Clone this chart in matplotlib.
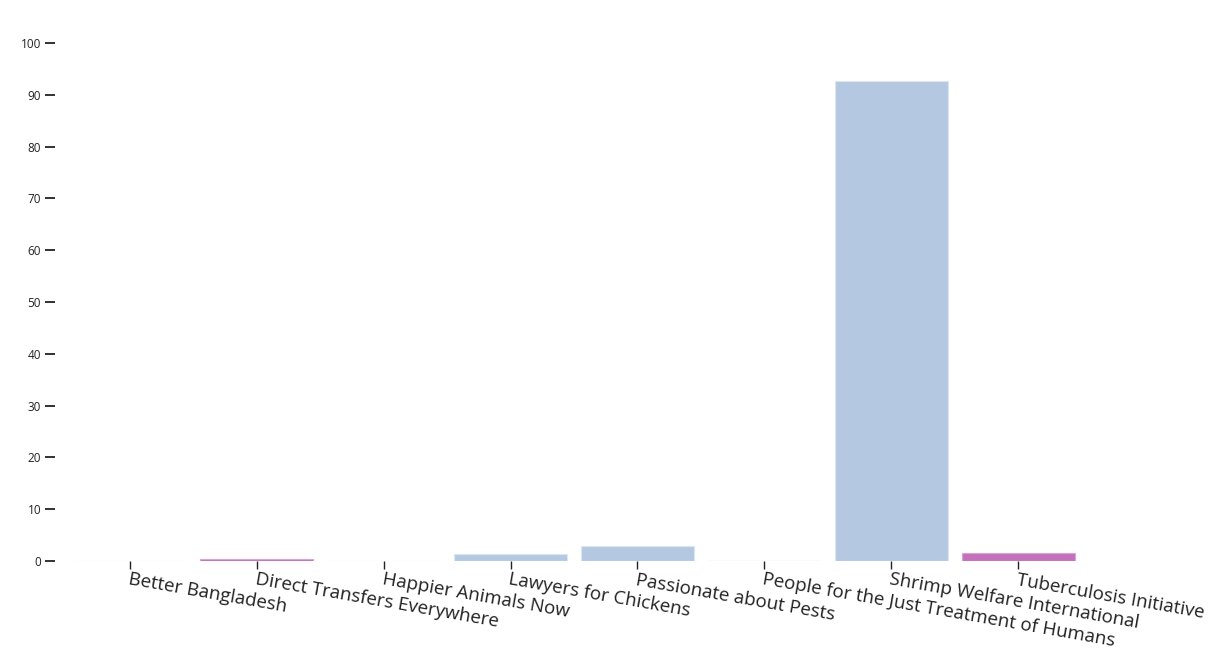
import matplotlib.pyplot as plt
import numpy as np

# data
charities = ["Better Bangladesh", "Direct Transfers Everywhere", "Happier Animals Now",
             "Lawyers for Chickens", "Passionate about Pests",
             "People for the Just Treatment of Humans", "Shrimp Welfare International",
             "Tuberculosis Initiative"]
values = [0, 0.4, 0, 1.35, 2.8, 0, 92.7, 1.6]
groups = ["animal", "human", "animal", "animal", "animal", "human", "animal", "human"]

BLUE = "#b4c9e1"
PURPLE = "#c471bb"
fill = {"animal": BLUE, "human": PURPLE}
edge = {"animal": "#dce6f1", "human": "#d9a3d4"}

plt.rcParams["font.family"] = ["Open Sans", "DejaVu Sans"]

fig = plt.figure(figsize=(12.23, 6.67), dpi=100)
ax = fig.add_axes([55 / 1223, 106 / 667, 1038 / 1223, 518 / 667])

x = np.arange(len(charities))
ax.bar(x, values, width=0.89,
       color=[fill[g] for g in groups],
       edgecolor=[edge[g] for g in groups], linewidth=0.8)

ax.set_xlim(-0.59, len(charities) - 1 + 0.59)
ax.set_ylim(0, 100)
ax.set_yticks(np.arange(0, 101, 10))
ax.tick_params(axis="y", length=7, width=1.3, pad=3, labelsize=8.5, colors="#222222")
ax.set_xticks(x)
ax.set_xticklabels(charities, rotation=-10, ha="left", va="top",
                   rotation_mode="anchor", fontsize=13.5, color="#222222")
ax.tick_params(axis="x", length=6, width=1, pad=1, colors="#222222")

for s in ax.spines.values():
    s.set_visible(False)

fig.savefig("out.png", dpi=100)
